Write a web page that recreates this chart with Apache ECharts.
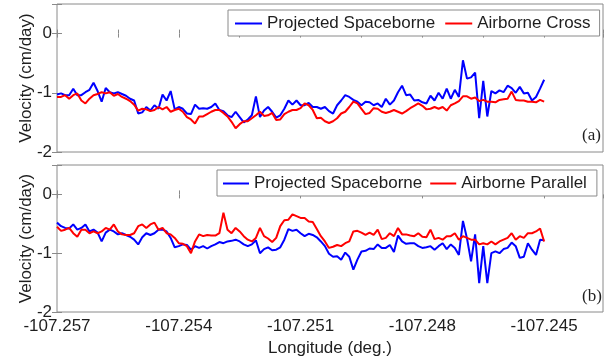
<!DOCTYPE html>
<html>
<head>
<meta charset="utf-8">
<script src="https://cdn.jsdelivr.net/npm/echarts@6/dist/echarts.min.js"></script>
<style>
html,body{margin:0;padding:0;background:#fff;}
#chart{width:610px;height:360px;}
</style>
</head>
<body>
<div id="chart"></div>
<script>
// Longitude grid: offsets in millidegrees from lonStart, one sample every 0.1 mdeg
const lonStart = -107.257;
const lonStepMdeg = 0.1;
const lonTickLabels = ['-107.257', '-107.254', '-107.251', '-107.248', '-107.245'];

// Panel (a)
const spaceborneA = [
  -1.03, -1.01, -1.04, -1.04, -0.93, -1.04, -1.04, -0.99, -0.95, -0.83,
  -0.97, -1.15, -0.92, -0.99, -1.01, -0.99, -1.02, -1.05, -1.10, -1.13,
  -1.35, -1.33, -1.24, -1.30, -1.21, -1.27, -1.03, -1.13, -0.97, -1.28,
  -1.24,
  -1.27, -1.35, -1.36, -1.20, -1.27, -1.26, -1.27, -1.24, -1.18, -1.29,
  -1.31, -1.38, -1.41, -1.32, -1.41, -1.50, -1.45, -1.38, -1.06, -1.41,
  -1.30, -1.24, -1.32, -1.42, -1.38, -1.27, -1.13, -1.20, -1.13, -1.21,
  -1.21, -1.17, -1.24, -1.24, -1.27, -1.24, -1.31, -1.35, -1.21, -1.13,
  -1.04, -1.07, -1.12, -1.15, -1.21, -1.15, -1.16, -1.21, -1.18, -1.24,
  -1.10, -1.20, -1.13, -0.99, -0.88, -1.04, -1.03, -1.13, -1.12, -1.16,
  -1.18, -1.05, -1.13, -1.00, -1.10, -0.93, -1.10, -0.95, -1.07, -0.45,
  -0.76, -0.74, -0.66, -1.43, -0.80, -1.40, -0.97, -1.01, -0.96, -0.99,
  -0.88, -0.92, -1.00, -0.90, -1.01, -1.00, -1.13, -1.07, -0.93, -0.78
];
const airborneCross = [
  -1.07, -1.07, -1.04, -1.10, -1.04, -1.01, -1.13, -1.18, -1.10, -1.04,
  -1.02, -0.99, -1.01, -0.99, -1.05, -1.02, -1.07, -1.10, -1.14, -1.20,
  -1.30, -1.27, -1.28, -1.31, -1.29, -1.24, -1.28, -1.24, -1.32, -1.29,
  -1.27,
  -1.32, -1.41, -1.45, -1.52, -1.40, -1.40, -1.36, -1.32, -1.29, -1.29,
  -1.34, -1.40, -1.49, -1.60, -1.53, -1.48, -1.48, -1.43, -1.38, -1.32,
  -1.39, -1.38, -1.34, -1.46, -1.45, -1.36, -1.32, -1.29, -1.29, -1.26,
  -1.18, -1.21, -1.29, -1.43, -1.42, -1.48, -1.51, -1.48, -1.43, -1.35,
  -1.32, -1.24, -1.15, -1.18, -1.27, -1.36, -1.34, -1.26, -1.27, -1.32,
  -1.34, -1.32, -1.29, -1.32, -1.35, -1.31, -1.26, -1.22, -1.18, -1.22,
  -1.28, -1.27, -1.24, -1.27, -1.24, -1.30, -1.21, -1.18, -1.14, -1.06,
  -1.06, -1.10, -1.08, -1.14, -1.12, -1.15, -1.15, -1.16, -1.12, -1.11,
  -1.10, -0.98, -1.12, -1.13, -1.13, -1.15, -1.15, -1.16, -1.12, -1.15
];

// Panel (b)
const spaceborneB = [
  -0.48, -0.54, -0.57, -0.58, -0.51, -0.60, -0.57, -0.51, -0.63, -0.60,
  -0.65, -0.80, -0.65, -0.60, -0.63, -0.68, -0.66, -0.69, -0.72, -0.77,
  -0.85, -0.73, -0.66, -0.69, -0.66, -0.60, -0.60, -0.63, -0.74, -0.90,
  -0.88,
  -0.85, -0.86, -0.94, -0.88, -0.91, -0.88, -0.92, -0.88, -0.85, -0.81,
  -0.83, -0.80, -0.79, -0.77, -0.80, -0.85, -0.88, -0.85, -0.78, -1.00,
  -0.93, -0.90, -0.95, -0.94, -0.90, -0.77, -0.59, -0.62, -0.60, -0.66,
  -0.71, -0.67, -0.69, -0.73, -0.80, -0.88, -1.01, -1.06, -1.05, -1.11,
  -0.99, -1.06, -1.28, -1.11, -0.97, -0.96, -0.92, -0.93, -0.85, -0.91,
  -0.91, -0.86, -0.98, -0.70, -0.80, -0.84, -0.83, -0.83, -0.88, -0.91,
  -0.90, -0.88, -0.94, -0.88, -0.83, -0.93, -0.85, -0.91, -1.03, -0.45,
  -0.75, -1.14, -0.68, -1.51, -0.88, -1.51, -1.00, -0.97, -1.00, -0.93,
  -0.91, -0.82, -0.88, -1.08, -1.06, -0.83, -0.94, -1.03, -0.77, -0.78
];
const airborneParallel = [
  -0.55, -0.62, -0.60, -0.57, -0.66, -0.72, -0.60, -0.60, -0.66, -0.63,
  -0.66, -0.63, -0.57, -0.60, -0.51, -0.63, -0.68, -0.69, -0.69, -0.66,
  -0.54, -0.51, -0.57, -0.51, -0.48, -0.60, -0.57, -0.66, -0.68, -0.74,
  -0.83,
  -0.84, -0.88, -1.00, -0.80, -0.68, -0.71, -0.69, -0.70, -0.70, -0.66,
  -0.31, -0.60, -0.66, -0.57, -0.63, -0.71, -0.77, -0.80, -0.74, -0.57,
  -0.71, -0.75, -0.81, -0.74, -0.54, -0.44, -0.43, -0.34, -0.37, -0.40,
  -0.40, -0.46, -0.47, -0.59, -0.71, -0.80, -0.91, -0.89, -0.86, -0.88,
  -0.83, -0.80, -0.63, -0.62, -0.65, -0.69, -0.65, -0.69, -0.60, -0.76,
  -0.74, -0.66, -0.71, -0.57, -0.68, -0.68, -0.70, -0.71, -0.66, -0.72,
  -0.73, -0.60, -0.76, -0.74, -0.77, -0.71, -0.71, -0.66, -0.77, -0.71,
  -0.74, -0.77, -0.77, -0.85, -0.83, -0.85, -0.80, -0.85, -0.80, -0.77,
  -0.74, -0.66, -0.77, -0.71, -0.74, -0.66, -0.66, -0.63, -0.58, -0.80
];

const yTickValues = [-2, -1, 0];

function pairs(vals) {
  return vals.map((v, i) => [i * lonStepMdeg, v]);
}

const FONT = "'Liberation Sans', Arial, sans-serif";
const FRAME = '#8a8a8a';
const TEXT = '#1e1e1e';

function xAx(grid, pos, interval, labels, name) {
  return {
    type: 'value', gridIndex: grid, position: pos,
    min: 0, max: 13.45, interval: interval,
    axisLine: { show: false },
    axisTick: { show: true, inside: true, length: 4, lineStyle: { color: FRAME, width: 1 } },
    splitLine: { show: false },
    axisLabel: labels ? {
      show: true, margin: 6, fontSize: 17, color: TEXT, fontFamily: FONT,
      showMaxLabel: false,
      formatter: function (v) {
        const k = Math.round(v / 3);
        if (Math.abs(v - k * 3) < 1e-6 && k >= 0 && k < lonTickLabels.length) return lonTickLabels[k];
        return '';
      }
    } : { show: false },
    name: name || '',
    nameLocation: 'middle', nameGap: 28, nameMoveOverlap: false,
    nameTextStyle: { fontSize: 17, color: TEXT, fontFamily: FONT }
  };
}
function yAx(grid, pos, labels) {
  return {
    type: 'value', gridIndex: grid, position: pos,
    min: -2, max: 0.5, interval: 1,
    axisLine: { show: false },
    axisTick: { show: true, inside: true, length: 5, lineStyle: { color: FRAME, width: 1 } },
    splitLine: { show: false },
    axisLabel: labels ? {
      show: true, margin: 5, fontSize: 17, color: TEXT, fontFamily: FONT,
      formatter: function (v) { return yTickValues.indexOf(v) >= 0 ? String(v) : ''; }
    } : { show: false },
    name: labels ? 'Velocity (cm/day)' : '',
    nameLocation: 'middle', nameGap: 22, nameRotate: 90, nameMoveOverlap: false,
    nameTextStyle: { fontSize: 17, color: TEXT, fontFamily: FONT }
  };
}

const chart = echarts.init(document.getElementById('chart'), null, { renderer: 'canvas' });
chart.setOption({
  animation: false,
  backgroundColor: '#fff',
  grid: [
    { left: 57, right: 7, top: 4, height: 148, show: true, borderColor: FRAME, borderWidth: 1, backgroundColor: 'transparent' },
    { left: 57, right: 7, top: 165, height: 147, show: true, borderColor: FRAME, borderWidth: 1, backgroundColor: 'transparent' }
  ],
  xAxis: [
    xAx(0, 'bottom', 1.5, false),
    xAx(0, 'top', 1.5, false),
    xAx(1, 'bottom', 3, true, 'Longitude (deg.)'),
    xAx(1, 'top', 3, false)
  ],
  yAxis: [
    yAx(0, 'left', true),
    yAx(0, 'right', false),
    yAx(1, 'left', true),
    yAx(1, 'right', false)
  ],
  legend: [
    {
      left: 228, top: 10, orient: 'horizontal',
      data: ['Projected Spaceborne', 'Airborne Cross'],
      icon: 'rect', itemWidth: 27, itemHeight: 2, itemGap: 10,
      padding: [5, 9, 4, 7],
      borderColor: FRAME, borderWidth: 1, backgroundColor: '#fff',
      textStyle: { fontSize: 17, color: TEXT, fontFamily: FONT },
      selectedMode: false
    },
    {
      left: 217, top: 170, orient: 'horizontal',
      data: ['Projected Spaceborne', 'Airborne Parallel'],
      icon: 'rect', itemWidth: 26, itemHeight: 2, itemGap: 8,
      padding: [5, 10, 4, 6],
      borderColor: FRAME, borderWidth: 1, backgroundColor: '#fff',
      textStyle: { fontSize: 17, color: TEXT, fontFamily: FONT },
      selectedMode: false
    }
  ],
  graphic: [
    { type: 'text', left: 582, top: 127, style: { text: '(a)', font: "17px 'Liberation Serif', 'Times New Roman', serif", fill: TEXT } },
    { type: 'text', left: 582, top: 288, style: { text: '(b)', font: "17px 'Liberation Serif', 'Times New Roman', serif", fill: TEXT } }
  ],
  series: [
    { name: 'Projected Spaceborne', type: 'line', xAxisIndex: 0, yAxisIndex: 0, data: pairs(spaceborneA),
      showSymbol: false, symbol: 'none', lineStyle: { color: '#0000ff', width: 2 }, itemStyle: { color: '#0000ff' }, z: 2 },
    { name: 'Airborne Cross', type: 'line', xAxisIndex: 0, yAxisIndex: 0, data: pairs(airborneCross),
      showSymbol: false, symbol: 'none', lineStyle: { color: '#ff0000', width: 2 }, itemStyle: { color: '#ff0000' }, z: 3 },
    { name: 'Projected Spaceborne', type: 'line', xAxisIndex: 2, yAxisIndex: 2, data: pairs(spaceborneB),
      showSymbol: false, symbol: 'none', lineStyle: { color: '#0000ff', width: 2 }, itemStyle: { color: '#0000ff' }, z: 2 },
    { name: 'Airborne Parallel', type: 'line', xAxisIndex: 2, yAxisIndex: 2, data: pairs(airborneParallel),
      showSymbol: false, symbol: 'none', lineStyle: { color: '#ff0000', width: 2 }, itemStyle: { color: '#ff0000' }, z: 3 }
  ]
});
</script>
</body>
</html>
